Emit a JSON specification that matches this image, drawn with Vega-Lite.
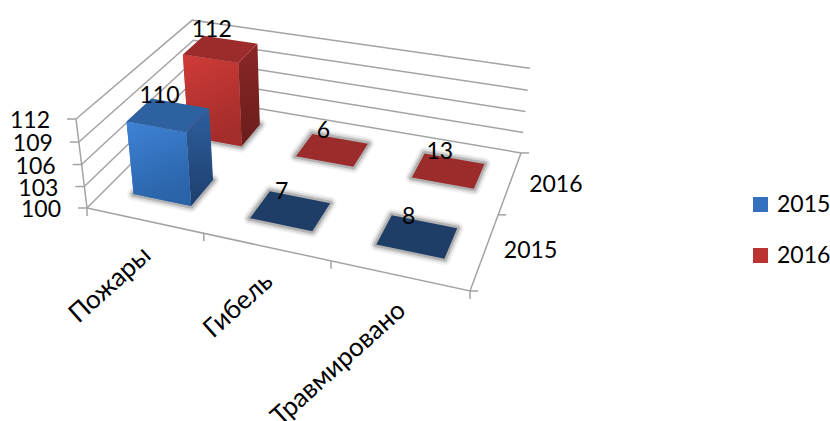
{
"$schema":"https://vega.github.io/schema/vega-lite/v6.json",
"width":830,"height":421,"padding":0,
"autosize":{"type":"none"},
"background":"white",
"config":{"view":{"stroke":null},"font":"Lato"},
"data":{"values":[
{"category":"Пожары","series":"2015","value":110},
{"category":"Гибель","series":"2015","value":7},
{"category":"Травмировано","series":"2015","value":8},
{"category":"Пожары","series":"2016","value":112},
{"category":"Гибель","series":"2016","value":6},
{"category":"Травмировано","series":"2016","value":13}
]},
"transform":[
{"calculate":"indexof(['Пожары','Гибель','Травмировано'],datum.category)","as":"col"},
{"calculate":"indexof(['2015','2016'],datum.series)","as":"row"},
{"calculate":"max(datum.value-100,0)/12","as":"h"},
{"calculate":"['side','front','top','shadow']","as":"face"},
{"flatten":["face"]},
{"calculate":"[0,1,2,3]","as":"k"},
{"flatten":["k"]},
{"calculate":"(datum.col+0.245+((datum.face=='front'||datum.face=='top'||datum.face=='shadow')?((datum.k==1||datum.k==2)?0.505:0):0.505))/3","as":"s"},
{"calculate":"(datum.row+0.305+(datum.face=='front'?0:(datum.face=='side'?((datum.k==1||datum.k==2)?0.41:0):((datum.k==2||datum.k==3)?0.41:0))))/2","as":"t"},
{"calculate":"datum.face=='shadow'?0:(datum.face=='top'?datum.h:((datum.k==0||datum.k==1)?datum.h:0))","as":"z"},
{"calculate":"1-0.1226*datum.s+0.2014*datum.t-0.0456*datum.z","as":"den"},
{"calculate":"(325.4*datum.s+149.7*datum.t-14.47*datum.z+87)/datum.den","as":"px"},
{"calculate":"(47.3*datum.s-90.3*datum.t-94.4*datum.z+208)/datum.den","as":"py"},
{"calculate":"datum.series+'|'+datum.category+'|'+datum.face","as":"poly"}
],
"encoding":{
"x":{"field":"px","type":"quantitative","scale":{"domain":[0,830],"nice":false,"zero":false},"axis":null},
"y":{"field":"py","type":"quantitative","scale":{"domain":[421,0],"nice":false,"zero":false},"axis":null},
"order":{"field":"k"},
"detail":{"field":"poly"}
},
"layer":[
{"data":{"values":[{"level":100},{"level":103},{"level":106},{"level":109},{"level":112}]},
 "transform":[
 {"calculate":"(datum.level-100)/12","as":"z"},
 {"calculate":"[0,1,2]","as":"k"},{"flatten":["k"]},
 {"calculate":"datum.k==2?1:0","as":"s"},
 {"calculate":"datum.k==0?0:1","as":"t"},
 {"calculate":"1-0.1226*datum.s+0.2014*datum.t-0.0456*datum.z","as":"den"},
 {"calculate":"(325.4*datum.s+149.7*datum.t-14.47*datum.z+87)/datum.den","as":"px"},
 {"calculate":"(47.3*datum.s-90.3*datum.t-94.4*datum.z+208)/datum.den","as":"py"}],
 "mark":{"type":"line","color":"#a3a3a3","strokeWidth":1.5,"interpolate":"linear"},
 "encoding":{"detail":{"field":"level"}}},
{"data":{"values":[{"k":0,"s":0,"t":0},{"k":1,"s":1,"t":0},{"k":2,"s":1,"t":1}]},
 "transform":[
 {"calculate":"1-0.1226*datum.s+0.2014*datum.t","as":"den"},
 {"calculate":"(325.4*datum.s+149.7*datum.t+87)/datum.den","as":"px"},
 {"calculate":"(47.3*datum.s-90.3*datum.t+208)/datum.den","as":"py"}],
 "mark":{"type":"line","color":"#a3a3a3","strokeWidth":1.5},
 "encoding":{"detail":{"value":"floor"}}},
{"data":{"values":[{"k":0,"z":0},{"k":1,"z":1}]},
 "transform":[
 {"calculate":"1-0.0456*datum.z","as":"den"},
 {"calculate":"(-14.47*datum.z+87)/datum.den","as":"px"},
 {"calculate":"(-94.4*datum.z+208)/datum.den","as":"py"}],
 "mark":{"type":"line","color":"#a3a3a3","strokeWidth":1.5},
 "encoding":{"detail":{"value":"wall"}}},
{"data":{"values":[
 {"s":0,"t":0,"z":0,"dx":-9,"dy":0},{"s":0,"t":0,"z":0.25,"dx":-9,"dy":0},{"s":0,"t":0,"z":0.5,"dx":-9,"dy":0},{"s":0,"t":0,"z":0.75,"dx":-9,"dy":0},{"s":0,"t":0,"z":1,"dx":-9,"dy":0},
 {"s":0,"t":0,"z":0,"dx":0,"dy":8},{"s":0.3333,"t":0,"z":0,"dx":0,"dy":8},{"s":0.6667,"t":0,"z":0,"dx":0,"dy":8},{"s":1,"t":0,"z":0,"dx":0,"dy":8},
 {"s":1,"t":0,"z":0,"dx":8,"dy":0},{"s":1,"t":0.5,"z":0,"dx":8,"dy":0},{"s":1,"t":1,"z":0,"dx":8,"dy":0}]},
 "transform":[
 {"calculate":"1-0.1226*datum.s+0.2014*datum.t-0.0456*datum.z","as":"den"},
 {"calculate":"(325.4*datum.s+149.7*datum.t-14.47*datum.z+87)/datum.den","as":"px"},
 {"calculate":"(47.3*datum.s-90.3*datum.t-94.4*datum.z+208)/datum.den","as":"py"},
 {"calculate":"datum.px+datum.dx","as":"px2"},
 {"calculate":"datum.py+datum.dy","as":"py2"}],
 "mark":{"type":"rule","color":"#a3a3a3","strokeWidth":1.5},
 "encoding":{"order":null,"detail":null,"x2":{"field":"px2"},"y2":{"field":"py2"}}},
{"transform":[{"filter":"datum.face=='shadow'"}],
 "mark":{"type":"line","interpolate":"linear-closed","stroke":"#000000","strokeWidth":13,"strokeOpacity":0.05,"strokeJoin":"round"}},
{"transform":[{"filter":"datum.face=='shadow'"}],
 "mark":{"type":"line","interpolate":"linear-closed","stroke":"#000000","strokeWidth":9,"strokeOpacity":0.1,"strokeJoin":"round"}},
{"transform":[{"filter":"datum.face=='shadow'"}],
 "mark":{"type":"line","interpolate":"linear-closed","stroke":"#000000","strokeWidth":5,"strokeOpacity":0.18,"strokeJoin":"round"}},
{"transform":[{"filter":"datum.h>0&&datum.face=='front'"}],
 "mark":{"type":"line","filled":true,"interpolate":"linear-closed"},
 "encoding":{"fill":{"field":"series","type":"nominal","scale":{"domain":["2015","2016"],"range":["#3470bd","#bb3431"]},"legend":{"title":null,"orient":"none","legendX":749,"legendY":193,"symbolType":"square","symbolSize":225,"symbolStrokeWidth":0,"labelFontSize":23,"labelFont":"Lato","labelColor":"#000000","rowPadding":27,"labelOffset":5}}}},
{"transform":[{"filter":"datum.series=='2016'&&datum.h>0&&datum.face=='side'"}],
 "mark":{"type":"line","filled":true,"interpolate":"linear-closed","fill":{"gradient":"linear","x1":0,"y1":0,"x2":0,"y2":1,"stops":[{"offset":0,"color":"#8a2725"},{"offset":1,"color":"#691d1c"}]}}},
{"transform":[{"filter":"datum.series=='2016'&&datum.h>0&&datum.face=='front'"}],
 "mark":{"type":"line","filled":true,"interpolate":"linear-closed","fill":{"gradient":"linear","x1":0,"y1":0,"x2":0.3,"y2":1,"stops":[{"offset":0,"color":"#d03b38"},{"offset":1,"color":"#a32d2b"}]}}},
{"transform":[{"filter":"datum.series=='2016'&&datum.face=='top'"}],
 "mark":{"type":"line","filled":true,"interpolate":"linear-closed","fill":"#9b2c2b"}},
{"transform":[{"filter":"datum.series=='2015'&&datum.h>0&&datum.face=='side'"}],
 "mark":{"type":"line","filled":true,"interpolate":"linear-closed","fill":{"gradient":"linear","x1":0,"y1":0,"x2":0,"y2":1,"stops":[{"offset":0,"color":"#2c5f9e"},{"offset":1,"color":"#1f3f6d"}]}}},
{"transform":[{"filter":"datum.series=='2015'&&datum.h>0&&datum.face=='front'"}],
 "mark":{"type":"line","filled":true,"interpolate":"linear-closed","fill":{"gradient":"linear","x1":0,"y1":0,"x2":0.3,"y2":1,"stops":[{"offset":0,"color":"#3e82d6"},{"offset":1,"color":"#2a63a8"}]}}},
{"transform":[{"filter":"datum.series=='2015'&&datum.h>0&&datum.face=='top'"}],
 "mark":{"type":"line","filled":true,"interpolate":"linear-closed","fill":"#2e619f"}},
{"transform":[{"filter":"datum.series=='2015'&&datum.h==0&&datum.face=='top'"}],
 "mark":{"type":"line","filled":true,"interpolate":"linear-closed","fill":"#1e3e67"}},
{"data":{"values":[
{"category":"Пожары","series":"2015","value":110},
{"category":"Гибель","series":"2015","value":7},
{"category":"Травмировано","series":"2015","value":8},
{"category":"Пожары","series":"2016","value":112},
{"category":"Гибель","series":"2016","value":6},
{"category":"Травмировано","series":"2016","value":13}
]},
 "transform":[
 {"calculate":"(indexof(['Пожары','Гибель','Травмировано'],datum.category)+0.5)/3","as":"s"},
 {"calculate":"(indexof(['2015','2016'],datum.series)+0.51)/2","as":"t"},
 {"calculate":"max(datum.value-100,0)/12","as":"z"},
 {"calculate":"1-0.1226*datum.s+0.2014*datum.t-0.0456*datum.z","as":"den"},
 {"calculate":"(325.4*datum.s+149.7*datum.t-14.47*datum.z+87)/datum.den-9","as":"px"},
 {"calculate":"(47.3*datum.s-90.3*datum.t-94.4*datum.z+208)/datum.den-19","as":"py"}],
 "mark":{"type":"text","fontSize":23,"color":"#000000","baseline":"middle","align":"center"},
 "encoding":{"order":null,"detail":null,"text":{"field":"value","type":"quantitative"}}},
{"data":{"values":[{"level":100},{"level":103},{"level":106},{"level":109},{"level":112}]},
 "transform":[
 {"calculate":"(datum.level-100)/12","as":"z"},
 {"calculate":"1-0.0456*datum.z","as":"den"},
 {"calculate":"(-14.47*datum.z+87)/datum.den-26","as":"px"},
 {"calculate":"(-94.4*datum.z+208)/datum.den+2","as":"py"}],
 "mark":{"type":"text","fontSize":23,"color":"#000000","baseline":"middle","align":"right"},
 "encoding":{"order":null,"detail":null,"text":{"field":"level","type":"quantitative"}}},
{"data":{"values":[{"depth":"2015","i":0},{"depth":"2016","i":1}]},
 "transform":[
 {"calculate":"(datum.i+0.5)/2","as":"t"},
 {"calculate":"1-0.1226+0.2014*datum.t","as":"den"},
 {"calculate":"(325.4+149.7*datum.t+87)/datum.den+19","as":"px"},
 {"calculate":"(47.3-90.3*datum.t+208)/datum.den+(datum.i==1?3:0)","as":"py"}],
 "mark":{"type":"text","fontSize":23,"color":"#000000","baseline":"middle","align":"left"},
 "encoding":{"order":null,"detail":null,"text":{"field":"depth","type":"nominal"}}},
{"data":{"values":[{"name":"Пожары","i":0},{"name":"Гибель","i":1},{"name":"Травмировано","i":2}]},
 "transform":[
 {"calculate":"(datum.i+0.5)/3","as":"s"},
 {"calculate":"1-0.1226*datum.s","as":"den"},
 {"calculate":"(325.4*datum.s+87)/datum.den+3","as":"px"},
 {"calculate":"(47.3*datum.s+208)/datum.den+31","as":"py"}],
 "mark":{"type":"text","font":"Lato","fontSize":26,"color":"#000000","baseline":"middle","align":"right","angle":318},
 "encoding":{"order":null,"detail":null,"text":{"field":"name","type":"nominal"}}}
]
}
